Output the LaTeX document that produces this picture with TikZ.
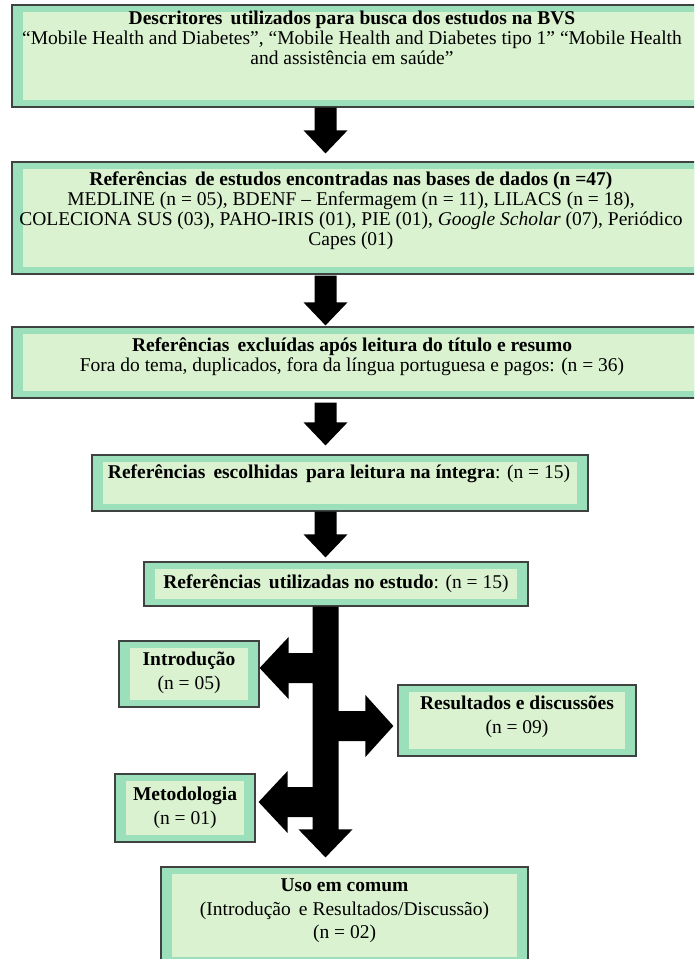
\documentclass[tikz,border=0pt]{standalone}
\usepackage{fontspec}
\setmainfont{Liberation Serif}
\usepackage{tikz}
\usetikzlibrary{calc}

\definecolor{mint}{RGB}{155,223,187}
\definecolor{pale}{RGB}{218,242,208}
\definecolor{edge}{RGB}{62,66,64}

\tikzset{
	frame/.style={draw=edge, line width=1.2pt, fill=mint, inner sep=0pt,
		path picture={\fill[pale] ([shift={(11pt,7pt)}]path picture bounding box.south west) rectangle ([shift={(-11pt,-7pt)}]path picture bounding box.north east);}},
	txt/.style={align=center, inner sep=0pt, font=\fontsize{19.5}{20}\selectfont},
	txtloose/.style={txt, font=\fontsize{19.5}{23.5}\selectfont},
	blk/.style={fill=black}
}
% block arrow pointing down: (start)(tip){gap at start}{gap at tip}
\def\blockdown(#1)(#2)#3#4{\fill[blk] ($(#1)+(-11,#3)$) -- ($(#1)+(11,#3)$) -- ($(#2)+(11,-#4-23)$) -- ($(#2)+(22,-#4-23)$) -- ($(#2)+(0,-#4)$) -- ($(#2)+(-22,-#4-23)$) -- ($(#2)+(-11,-#4-23)$) -- cycle;}

\begin{document}
\begin{tikzpicture}[x=1pt,y=-1pt]
		%%%%% START %%%%%
		\path[use as bounding box] (0,0) rectangle (694,959);
		\clip (0,0) rectangle (694,959);
		\coordinate (spine) at (325.5,0);
		
		% wide boxes (cut at the right edge)
		\node[frame, minimum width=694pt, minimum height=102pt] (desc) at (359,56) {};
		\node[frame, minimum width=694pt, minimum height=112pt] (refs) at (359,218) {};
		\node[frame, minimum width=694pt, minimum height=71pt] (excl) at (359,362.5) {};
		
		\node[txt] (desc-t) at (352,38) {\textbf{Descritores\, utilizados para busca dos estudos na BVS}\\
			“Mobile Health and Diabetes”, “Mobile Health and Diabetes tipo 1” “Mobile Health\\
			and assistência em saúde”};
		\node[txt] (refs-t) at (351,211) {\textbf{Referências\, de estudos encontradas nas bases de dados (n =47)}\\
			MEDLINE (n = 05), BDENF – Enfermagem (n = 11), LILACS (n = 18),\\
			COLECIONA SUS (03), PAHO-IRIS (01), PIE (01), \textit{Google Scholar} (07), Periódico\\
			Capes (01)};
		\node[txt] (excl-t) at (352,357) {\textbf{Referências\, excluídas após leitura do título e resumo}\\
			Fora do tema, duplicados, fora da língua portuguesa e pagos: (n = 36)};
		
		% middle boxes
		\node[frame, minimum width=496pt, minimum height=56pt] (chosen) at (340,483) {};
		\node[txt] (chosen-t) at (339,474) {\textbf{Referências\, escolhidas\, para leitura na íntegra}: (n = 15)};
		
		\node[frame, minimum width=384pt, minimum height=44pt] (used) at (336,584) {};
		\node[txt] (used-t) at (336,584) {\textbf{Referências\, utilizadas no estudo}: (n = 15)};
		
		% branches
		\node[frame, minimum width=140pt, minimum height=66pt] (intro) at (189,674) {};
		\node[txtloose] (intro-t) at (189,673) {\textbf{Introdução}\\(n = 05)};
		
		\node[frame, minimum width=238pt, minimum height=71pt] (result) at (517,720.5) {};
		\node[txtloose] (result-t) at (517,717) {\textbf{Resultados e discussões}\\(n = 09)};
		
		\node[frame, minimum width=140pt, minimum height=68pt] (metod) at (185,808) {};
		\node[txtloose] (metod-t) at (185,808) {\textbf{Metodologia}\\(n = 01)};
		
		\node[frame, minimum width=367pt, minimum height=97pt] (common) at (344.5,915.5) {};
		\node[txtloose] (common-t) at (344.5,911) {\textbf{Uso em comum}\\(Introdução\, e Resultados/Discussão)\\(n = 02)};
		
		% arrows between the boxes
		\blockdown(desc.south -| spine)(refs.north -| spine){0}{8}
		\blockdown(refs.south -| spine)(excl.north -| spine){1}{1}
		\blockdown(excl.south -| spine)(chosen.north -| spine){4}{9}
		\blockdown(chosen.south -| spine)(used.north -| spine){0}{4}
		
		% the split arrow under the last box
		\coordinate (s0) at (used.south -| spine);
		\coordinate (tI) at ([yshift=6pt]intro.east);
		\coordinate (tM) at ([shift={(3pt,6pt)}]metod.east);
		\coordinate (tR) at ([shift={(-4pt,-5.5pt)}]result.west);
		\coordinate (tU) at ($(common.north -| spine)+(0,-9)$);
		\fill[blk] ($(s0)+(-13,0)$) -- ($(s0)+(13,0)$)
			-- ($(tR -| s0)+(13,-15)$) -- ($(tR)+(-28,-15)$) -- ($(tR)+(-28,-31)$) -- (tR)
			-- ($(tR)+(-28,31)$) -- ($(tR)+(-28,15)$) -- ($(tR -| s0)+(13,15)$)
			-- ($(tU)+(13,-28)$) -- ($(tU)+(27,-28)$) -- (tU) -- ($(tU)+(-27,-28)$) -- ($(tU)+(-13,-28)$)
			-- ($(tM -| s0)+(-13,15)$) -- ($(tM)+(29,15)$) -- ($(tM)+(29,31)$) -- (tM)
			-- ($(tM)+(29,-31)$) -- ($(tM)+(29,-15)$) -- ($(tM -| s0)+(-13,-15)$)
			-- ($(tI -| s0)+(-13,15)$) -- ($(tI)+(29,15)$) -- ($(tI)+(29,31)$) -- (tI)
			-- ($(tI)+(29,-31)$) -- ($(tI)+(29,-15)$) -- ($(tI -| s0)+(-13,-15)$) -- cycle;
		
		%%%%% END %%%%%
	\end{tikzpicture}
\end{document}
